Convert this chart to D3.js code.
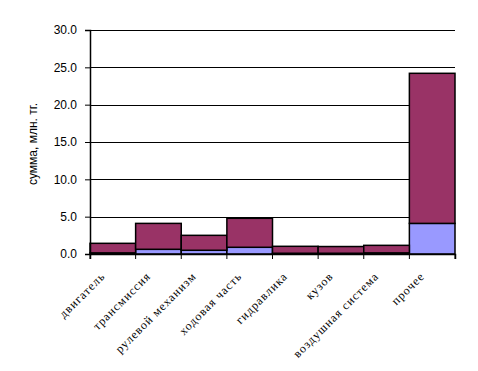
<!DOCTYPE html>
<html>
<head>
<meta charset="utf-8">
<script src="https://cdn.jsdelivr.net/npm/d3@7"></script>
<style>
  body { margin: 0; background: #fff; }
  svg { display: block; }
</style>
</head>
<body>
<div id="chart"></div>
<script>
// категории и значения (млн. тг.)
const categories = ['двигатель', 'трансмиссия', 'рулевой механизм', 'ходовая часть',
  'гидравлика', 'кузов', 'воздушная система', 'прочее'];
const lowerValues = [0.15, 0.63, 0.5, 0.9, 0.1, 0.1, 0.15, 4.1];
const upperValues = [1.28, 3.47, 2.0, 3.88, 0.93, 0.9, 1.01, 20.1];
const yTicks = [0, 5, 10, 15, 20, 25, 30];

const width = 478, height = 371;
const margin = { top: 30, right: 23, bottom: 117, left: 90 };

const svg = d3.select('#chart').append('svg')
  .attr('width', width)
  .attr('height', height);

const x = d3.scaleBand()
  .domain(categories)
  .range([margin.left, width - margin.right])
  .padding(0);

const y = d3.scaleLinear()
  .domain([0, 30])
  .range([height - margin.bottom, margin.top]);

// сетка
svg.append('g')
  .selectAll('line')
  .data(yTicks.slice(1))
  .enter().append('line')
  .attr('x1', margin.left)
  .attr('x2', width - margin.right)
  .attr('y1', d => Math.round(y(d)) + 0.5)
  .attr('y2', d => Math.round(y(d)) + 0.5)
  .attr('stroke', '#000')
  .attr('stroke-width', 1);

const data = categories.map((c, i) => ({ cat: c, lo: lowerValues[i], hi: upperValues[i] }));
const stack = d3.stack().keys(['lo', 'hi'])(data);
const colors = { lo: '#9999ff', hi: '#993366' };

svg.append('g')
  .selectAll('g')
  .data(stack)
  .enter().append('g')
  .attr('fill', d => colors[d.key])
  .selectAll('rect')
  .data(d => d)
  .enter().append('rect')
  .attr('x', d => x(d.data.cat))
  .attr('width', x.bandwidth())
  .attr('y', d => y(d[1]))
  .attr('height', d => y(d[0]) - y(d[1]))
  .attr('stroke', '#000')
  .attr('stroke-width', 1.5);

// ось Y
const yAxis = svg.append('g')
  .attr('transform', `translate(${margin.left},0)`)
  .call(d3.axisLeft(y).tickValues(yTicks).tickFormat(d3.format('.1f')).tickSize(5).tickPadding(8));
yAxis.select('.domain').attr('stroke', '#000').attr('stroke-width', 1.5);
yAxis.selectAll('text')
  .attr('font-family', 'Liberation Sans, Arial, sans-serif')
  .attr('font-size', 12)
  .attr('fill', '#000');

// ось X
const xAxis = svg.append('g')
  .attr('transform', `translate(0,${height - margin.bottom})`)
  .call(d3.axisBottom(x).tickSize(5).tickFormat(''));
xAxis.select('.domain').attr('stroke', '#000').attr('stroke-width', 1.5);
xAxis.selectAll('.tick').remove();
const edges = d3.range(categories.length + 1).map(i => margin.left + i * x.bandwidth());
xAxis.selectAll('line.edge')
  .data(edges)
  .enter().append('line')
  .attr('class', 'edge')
  .attr('x1', d => d).attr('x2', d => d)
  .attr('y1', 0).attr('y2', 5)
  .attr('stroke', '#000');

svg.append('g')
  .selectAll('text')
  .data(categories)
  .enter().append('text')
  .attr('transform', d => `translate(${x(d) + x.bandwidth() / 2 - 7},${height - margin.bottom + 23}) rotate(-45)`)
  .attr('text-anchor', 'end')
  .attr('font-family', 'Liberation Serif, Times New Roman, serif')
  .attr('font-size', 12)
  .attr('letter-spacing', 1)
  .text(d => d);

// подпись оси Y
svg.append('text')
  .attr('transform', `translate(37,${(margin.top + height - margin.bottom) / 2 + 2}) rotate(-90)`)
  .attr('text-anchor', 'middle')
  .attr('font-family', 'Liberation Sans, Arial, sans-serif')
  .attr('font-size', 12)
  .text('сумма, млн. тг.');
</script>
</body>
</html>
